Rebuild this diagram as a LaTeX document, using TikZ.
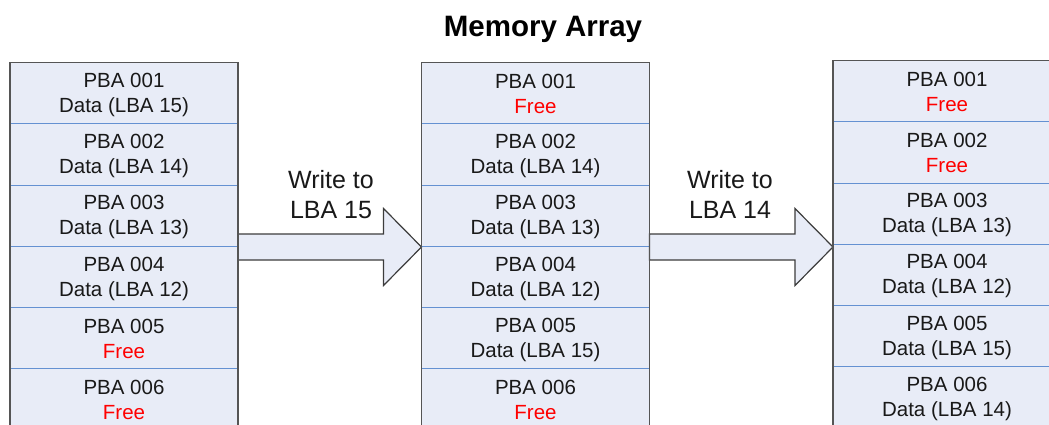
\documentclass[tikz,border=0pt]{standalone}
\usepackage{fontspec}
\setmainfont{Liberation Sans}
\usetikzlibrary{calc}

\definecolor{cellfill}{RGB}{232,236,247}
\definecolor{rowline}{RGB}{100,145,210}
\definecolor{framegray}{RGB}{85,85,85}
\definecolor{arrowedge}{RGB}{60,60,60}
\definecolor{freetext}{RGB}{255,0,0}
\definecolor{ink}{RGB}{25,25,25}

% two-line cell text: block number above, contents below
\newcommand{\cellstrut}{\rule[-2.8pt]{0pt}{20.3pt}}
\newcommand{\pba}[2]{\cellstrut PBA #1\\\cellstrut #2}
\newcommand{\freeblk}{\textcolor{freetext}{Free}}
\newcommand{\lba}[1]{Data (LBA #1)}
\newcommand{\lblstrut}{\rule[-3pt]{0pt}{20.9pt}}

\begin{document}
\begin{tikzpicture}[x=1pt,y=-1pt,
  cell/.style={rectangle, fill=cellfill, draw=rowline, line width=1pt,
    minimum width=228pt, minimum height=61.2pt, inner sep=0pt, outer sep=0pt,
    align=center, text=ink, font=\fontsize{20.5}{25}\selectfont},
  below cell/.style={cell, anchor=north},
  framebox/.style={draw=framegray, line width=1.4pt},
  blockarrow/.style={draw=arrowedge, fill=cellfill, line width=1.2pt, line join=miter},
  arrowlabel/.style={align=center, inner sep=0pt, text=ink,
    font=\fontsize{25}{30}\selectfont},
  heading/.style={inner sep=0pt, anchor=base, text=black,
    font=\fontsize{29.5}{34}\selectfont\bfseries}]

\useasboundingbox (0,0) rectangle (1049,425);
\clip (0,0) rectangle (1049,425);

% title
\node[heading] (title) at (543,36.5) {Memory Array};

% column 1: before the first write
\node[cell] (c1r1) at (124,93.4) {\pba{001}{\lba{15}}};
\node[below cell] (c1r2) at (c1r1.south) {\pba{002}{\lba{14}}};
\node[below cell] (c1r3) at (c1r2.south) {\pba{003}{\lba{13}}};
\node[below cell] (c1r4) at (c1r3.south) {\pba{004}{\lba{12}}};
\node[below cell] (c1r5) at (c1r4.south) {\pba{005}{\freeblk}};
\node[below cell] (c1r6) at (c1r5.south) {\pba{006}{\freeblk}};

% column 2: after writing LBA 15
\node[cell] (c2r1) at (535.5,93.4) {\pba{001}{\freeblk}};
\node[below cell] (c2r2) at (c2r1.south) {\pba{002}{\lba{14}}};
\node[below cell] (c2r3) at (c2r2.south) {\pba{003}{\lba{13}}};
\node[below cell] (c2r4) at (c2r3.south) {\pba{004}{\lba{12}}};
\node[below cell] (c2r5) at (c2r4.south) {\pba{005}{\lba{15}}};
\node[below cell] (c2r6) at (c2r5.south) {\pba{006}{\freeblk}};

% column 3: after writing LBA 14
\node[cell] (c3r1) at (947,91.2) {\pba{001}{\freeblk}};
\node[below cell] (c3r2) at (c3r1.south) {\pba{002}{\freeblk}};
\node[below cell] (c3r3) at (c3r2.south) {\pba{003}{\lba{13}}};
\node[below cell] (c3r4) at (c3r3.south) {\pba{004}{\lba{12}}};
\node[below cell] (c3r5) at (c3r4.south) {\pba{005}{\lba{15}}};
\node[below cell] (c3r6) at (c3r5.south) {\pba{006}{\lba{14}}};

% block arrows between the columns
\coordinate (tip1) at ($(c2r3.south west)+(0,0.6)$);
\coordinate (tail1) at (c1r3.east |- tip1);
\coordinate (tip2) at (c3r3.west |- tip1);
\coordinate (tail2) at (c2r3.east |- tip1);

\draw[blockarrow] ($(tail1)+(0,-13)$) -- ($(tip1)+(-38,-13)$) -- ($(tip1)+(-38,-38.5)$)
  -- (tip1) -- ($(tip1)+(-38,38.5)$) -- ($(tip1)+(-38,13)$) -- ($(tail1)+(0,13)$) -- cycle;
\draw[blockarrow] ($(tail2)+(0,-13)$) -- ($(tip2)+(-38,-13)$) -- ($(tip2)+(-38,-38.5)$)
  -- (tip2) -- ($(tip2)+(-38,38.5)$) -- ($(tip2)+(-38,13)$) -- ($(tail2)+(0,13)$) -- cycle;

\node[arrowlabel] (lbl1) at (331,195.7) {\lblstrut Write to\\\lblstrut LBA 15};
\node[arrowlabel] (lbl2) at (730,195.7) {\lblstrut Write to\\\lblstrut LBA 14};

% outer frames of the columns
\draw[framebox] (c1r6.south west) -- (c1r1.north west) -- (c1r1.north east) -- (c1r6.south east);
\draw[framebox] (c2r6.south west) -- (c2r1.north west) -- (c2r1.north east) -- (c2r6.south east);
\draw[framebox] (c3r6.south west) -- (c3r1.north west) -- (c3r1.north east);
\end{tikzpicture}
\end{document}
